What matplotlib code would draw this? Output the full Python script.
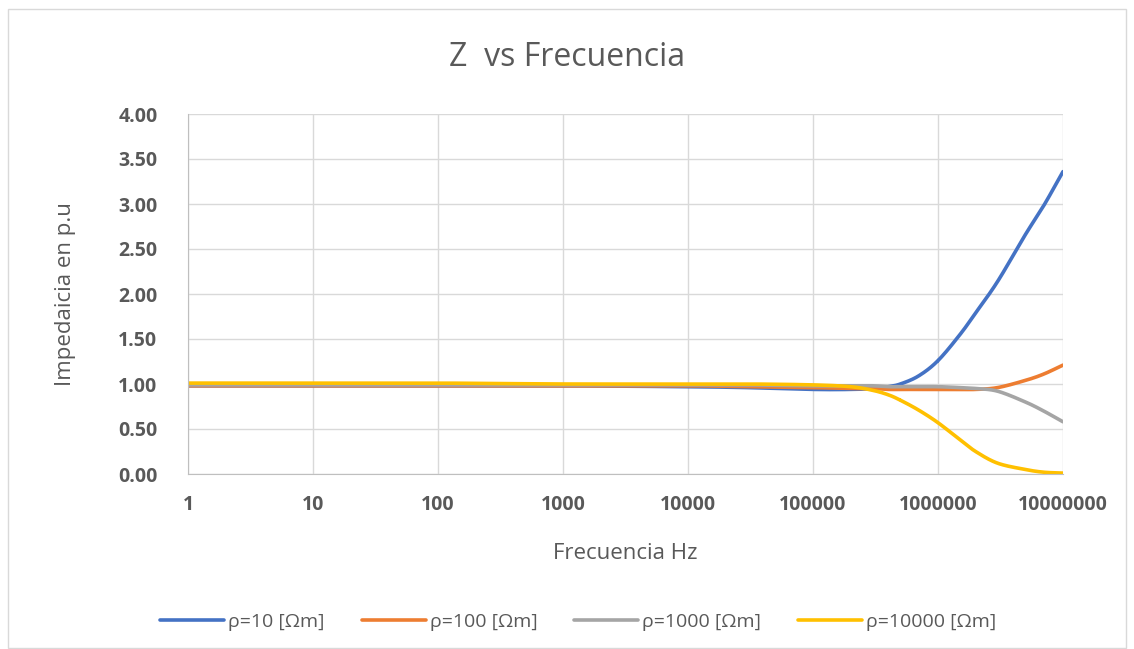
import matplotlib.pyplot as plt
import matplotlib.ticker as mticker
import numpy as np

# %% data
freq = [1, 10, 100, 1000, 10000, 30000, 100000, 200000, 300000, 400000,
        500000, 700000, 1000000, 1500000, 2000000, 3000000, 5000000,
        7000000, 10000000]
z_10 = [0.98, 0.98, 0.98, 0.98, 0.97, 0.96, 0.94, 0.94, 0.95, 0.97,
        1.00, 1.09, 1.26, 1.55, 1.79, 2.14, 2.66, 2.98, 3.36]
z_100 = [0.98, 0.98, 0.98, 0.98, 0.98, 0.97, 0.96, 0.95, 0.95, 0.94,
         0.94, 0.94, 0.94, 0.94, 0.94, 0.96, 1.04, 1.11, 1.21]
z_1000 = [0.99, 0.99, 0.99, 0.99, 0.99, 0.99, 0.98, 0.98, 0.98, 0.97,
          0.97, 0.97, 0.97, 0.96, 0.95, 0.92, 0.80, 0.70, 0.58]
z_10000 = [1.01, 1.01, 1.01, 1.00, 1.00, 1.00, 0.99, 0.97, 0.93, 0.88,
           0.82, 0.71, 0.57, 0.38, 0.25, 0.12, 0.05, 0.02, 0.01]
labels = ['ρ=10 [Ωm]', 'ρ=100 [Ωm]', 'ρ=1000 [Ωm]', 'ρ=10000 [Ωm]']
colors = ['#4472C4', '#ED7D31', '#A5A5A5', '#FFC000']
xticks = [1, 10, 100, 1000, 10000, 100000, 1000000, 10000000]
yticks = [0, 0.5, 1, 1.5, 2, 2.5, 3, 3.5, 4]


def smooth(x, y, n=30):
    # catmull-rom through the points (like excel's smoothed line)
    x = np.asarray(x, float)
    y = np.asarray(y, float)
    px = np.r_[2*x[0]-x[1], x, 2*x[-1]-x[-2]]
    py = np.r_[2*y[0]-y[1], y, 2*y[-1]-y[-2]]
    t = np.linspace(0, 1, n)
    ox, oy = [], []
    for i in range(1, len(px)-2):
        for p, out in ((px, ox), (py, oy)):
            p0, p1, p2, p3 = p[i-1], p[i], p[i+1], p[i+2]
            out.append(0.5*((2*p1) + (-p0+p2)*t + (2*p0-5*p1+4*p2-p3)*t**2
                            + (-p0+3*p1-3*p2+p3)*t**3))
    return np.concatenate(ox), np.concatenate(oy)


# %% plot
plt.rcParams['font.family'] = ['Open Sans', 'DejaVu Sans']
txt = '#595959'

fig = plt.figure(figsize=(11.34, 6.49), dpi=100)
ax = fig.add_axes([188/1134, 1 - 474/649, 875/1134, 360/649])

# outer chart border
fig.patches.append(plt.Rectangle((8/1134, 0.002), 1118/1134, 1 - 10/649,
                                 transform=fig.transFigure, fill=False,
                                 edgecolor='#D9D9D9', lw=1))

lx = np.log10(freq)
for ys, c, lab in zip([z_10, z_100, z_1000, z_10000], colors, labels):
    sx, sy = smooth(lx, ys)
    ax.plot(10**sx, sy, color=c, lw=2.6, label=lab, solid_capstyle='round')

ax.set_xscale('log')
ax.set_xlim(1, 1e7)
ax.set_ylim(0, 4)
ax.set_xticks(xticks)
ax.xaxis.set_major_formatter(mticker.FuncFormatter(lambda v, p: '%d' % round(v)))
ax.xaxis.set_minor_locator(mticker.NullLocator())
ax.set_yticks(yticks)
ax.yaxis.set_major_formatter(mticker.FormatStrFormatter('%.2f'))
ax.grid(True, color='#D9D9D9', lw=1)
ax.set_axisbelow(True)
for s in ['top', 'right']:
    ax.spines[s].set_visible(False)
for s in ['left', 'bottom']:
    ax.spines[s].set_color('#BFBFBF')
ax.tick_params(length=0, labelsize=14, colors=txt)
ax.tick_params(axis='x', pad=15)
ax.tick_params(axis='y', pad=22)
for t in ax.get_xticklabels() + ax.get_yticklabels():
    t.set_fontweight('bold')

ax.set_xlabel('Frecuencia Hz', fontsize=16, color=txt, labelpad=20)
ax.set_ylabel('Impedaicia en p.u', fontsize=16, color=txt, labelpad=30)
fig.text(0.5, 1 - 58/649, 'Z  vs Frecuencia', ha='center', va='center',
         fontsize=23, color=txt)

fig.legend(*ax.get_legend_handles_labels(), loc='center', ncol=4,
           bbox_to_anchor=(0.51, 1 - 622/649), frameon=False, fontsize=14,
           labelcolor=txt, handlelength=3.3, columnspacing=1.9,
           handletextpad=0.2)

plt.savefig('out.png', dpi=100)
